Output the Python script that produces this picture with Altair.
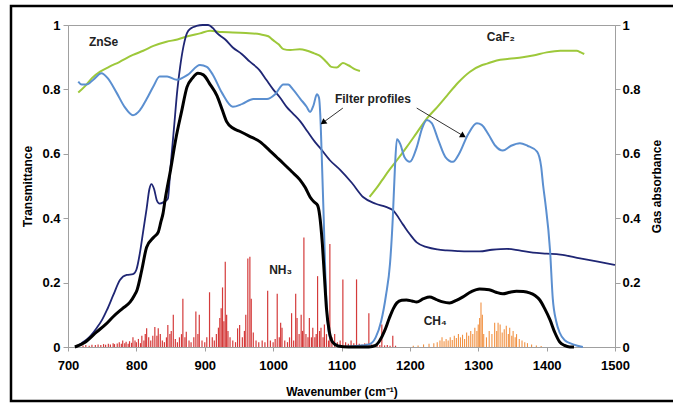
import altair as alt
import pandas as pd

# ---------------- data ----------------
znse_wn = [715, 725, 735, 747, 760, 775, 795, 810, 825, 844, 860, 875, 893, 908, 925, 941, 960, 981, 993, 1000,
           1008, 1015, 1025, 1039, 1050, 1060, 1068, 1078, 1085, 1093, 1102, 1110, 1120, 1127]
znse_t = [0.79, 0.81, 0.835, 0.855, 0.87, 0.885, 0.907, 0.92, 0.935, 0.948, 0.955, 0.965, 0.974, 0.982, 0.978,
          0.977, 0.975, 0.971, 0.965, 0.953, 0.94, 0.925, 0.922, 0.925, 0.92, 0.912, 0.905, 0.885, 0.87, 0.868,
          0.882, 0.875, 0.862, 0.857]

caf2_wn = [1141, 1150, 1160, 1170, 1181, 1195, 1210, 1225, 1240, 1254, 1270, 1288, 1305, 1313, 1327, 1345, 1365,
           1380, 1400, 1420, 1444, 1450, 1455]
caf2_t = [0.466, 0.49, 0.52, 0.55, 0.58, 0.62, 0.665, 0.71, 0.745, 0.78, 0.82, 0.855, 0.875, 0.88, 0.89, 0.895,
          0.90, 0.905, 0.915, 0.92, 0.92, 0.915, 0.91]

filt_wn = [715, 720, 727, 737, 749, 758, 771, 783, 795, 805, 815, 825, 834, 845, 859, 875, 893, 903, 912, 925,
           941, 955, 971, 991, 1003, 1015, 1022, 1029, 1040, 1049, 1054, 1059, 1064, 1067, 1069, 1071, 1074, 1076,
           1079, 1083, 1090, 1100, 1120, 1140, 1150, 1158, 1165, 1171, 1175, 1178, 1181, 1186, 1192, 1200, 1210,
           1218, 1225, 1232, 1242, 1252, 1263, 1272, 1285, 1298, 1305, 1315, 1325, 1336, 1348, 1361, 1372, 1386,
           1392, 1395, 1398, 1405, 1409, 1414, 1419, 1427, 1434, 1445, 1453]
filt_t = [0.824, 0.815, 0.815, 0.83, 0.85, 0.835, 0.79, 0.745, 0.72, 0.735, 0.77, 0.81, 0.84, 0.84, 0.83, 0.845,
          0.876, 0.87, 0.845, 0.79, 0.746, 0.755, 0.77, 0.77, 0.785, 0.815, 0.815, 0.80, 0.77, 0.746, 0.73, 0.75,
          0.785, 0.775, 0.72, 0.6, 0.4, 0.25, 0.1, 0.03, 0.01, 0.0, 0.003, 0.008, 0.03, 0.08, 0.16, 0.26, 0.40,
          0.55, 0.645, 0.63, 0.59, 0.575, 0.62, 0.68, 0.705, 0.695, 0.64, 0.59, 0.575, 0.60, 0.66, 0.695, 0.69,
          0.66, 0.625, 0.61, 0.625, 0.633, 0.625, 0.607, 0.56, 0.50, 0.45, 0.30, 0.15, 0.08, 0.045, 0.02, 0.012,
          0.004, 0.0]

navy_wn = [712, 720, 730, 742, 750, 757, 766, 776, 786, 795, 800, 805, 810, 815, 819, 822, 826, 830, 834, 840,
           846, 850, 855, 860, 864, 869, 874, 880, 888, 897, 905, 912, 918, 930, 941, 954, 966, 980, 990, 1000,
           1010, 1020, 1029, 1040, 1050, 1060, 1068, 1083, 1098, 1115, 1132, 1150, 1165, 1175, 1190, 1200, 1210,
           1225, 1240, 1254, 1270, 1285, 1302, 1320, 1342, 1360, 1380, 1400, 1420, 1449, 1475, 1500]
navy_t = [0.0, 0.012, 0.028, 0.059, 0.085, 0.115, 0.16, 0.208, 0.224, 0.226, 0.24, 0.29, 0.36, 0.43, 0.49, 0.506,
          0.49, 0.455, 0.445, 0.45, 0.46, 0.56, 0.68, 0.80, 0.87, 0.935, 0.975, 0.99, 0.997, 1.0, 1.0, 0.99,
          0.975, 0.955, 0.93, 0.91, 0.886, 0.86, 0.83, 0.80, 0.775, 0.745, 0.725, 0.70, 0.67, 0.64, 0.62, 0.58,
          0.55, 0.51, 0.465, 0.445, 0.435, 0.425, 0.38, 0.35, 0.325, 0.31, 0.303, 0.30, 0.298, 0.297, 0.297,
          0.302, 0.305, 0.30, 0.293, 0.29, 0.287, 0.275, 0.265, 0.255]

prod_wn = [710, 725, 742, 755, 766, 780, 791, 797, 801, 808, 815, 825, 832, 836, 839, 842, 850, 858, 866, 874,
           882, 890, 898, 908, 918, 925, 932, 941, 951, 965, 981, 995, 1005, 1015, 1027, 1039, 1047, 1054, 1060,
           1065, 1068, 1072, 1075, 1078, 1082, 1087, 1095, 1110, 1140, 1150, 1156, 1163, 1170, 1176, 1181, 1188,
           1195, 1203, 1210, 1220, 1229, 1238, 1248, 1258, 1268, 1277, 1290, 1302, 1316, 1326, 1336, 1346, 1356,
           1366, 1375, 1383, 1390, 1397, 1405, 1412, 1419, 1426, 1434, 1440]
prod_t = [0.0, 0.015, 0.047, 0.07, 0.094, 0.12, 0.14, 0.16, 0.177, 0.24, 0.31, 0.34, 0.357, 0.39, 0.415, 0.457,
          0.55, 0.65, 0.73, 0.807, 0.835, 0.85, 0.845, 0.815, 0.78, 0.74, 0.70, 0.68, 0.67, 0.655, 0.637, 0.61,
          0.59, 0.57, 0.545, 0.52, 0.495, 0.466, 0.45, 0.44, 0.41, 0.32, 0.22, 0.12, 0.05, 0.015, 0.003, 0.0, 0.0,
          0.005, 0.02, 0.05, 0.09, 0.12, 0.137, 0.145, 0.146, 0.143, 0.14, 0.15, 0.155, 0.148, 0.14, 0.137, 0.145,
          0.155, 0.172, 0.18, 0.178, 0.17, 0.165, 0.17, 0.173, 0.172, 0.168, 0.16, 0.146, 0.12, 0.084, 0.045,
          0.016, 0.005, 0.0, 0.0]

nh3_wn = [722, 726, 731, 735, 740, 744, 748, 752, 755, 759, 762, 766, 768, 772, 775, 778, 780, 783, 785, 788,
          790, 793, 795, 798, 800, 803, 806, 808, 811, 813, 815, 818, 821, 824, 827, 830, 832, 835, 838, 841,
          844, 846, 849, 851, 854, 857, 860, 863, 866, 868, 871, 873, 877, 880, 884, 887, 890, 892, 896, 900,
          903, 907, 911, 914, 917, 920, 922, 924, 926, 928, 930, 932, 934, 937, 941, 945, 948, 951, 955, 958,
          960, 963, 966, 968, 971, 975, 979, 984, 988, 992, 996, 1000, 1003, 1006, 1009, 1011, 1013, 1017, 1021,
          1024, 1027, 1030, 1033, 1035, 1038, 1041, 1043, 1045, 1048, 1051, 1053, 1056, 1058, 1061, 1063, 1065,
          1068, 1070, 1073, 1075, 1078, 1081, 1083, 1086, 1090, 1094, 1098, 1102, 1106, 1110, 1114, 1118, 1122,
          1126, 1130, 1134, 1137, 1140, 1144, 1148, 1152, 1156, 1159, 1163, 1167, 1171, 1175, 1179]
nh3_a = [0.005, 0.006, 0.004, 0.007, 0.006, 0.008, 0.006, 0.009, 0.007, 0.01, 0.008, 0.012, 0.009, 0.011, 0.015,
         0.01, 0.02, 0.012, 0.016, 0.01, 0.018, 0.013, 0.03, 0.02, 0.015, 0.025, 0.012, 0.035, 0.02, 0.04,
         0.058, 0.03, 0.02, 0.035, 0.062, 0.035, 0.058, 0.04, 0.02, 0.015, 0.03, 0.068, 0.04, 0.05, 0.10, 0.025,
         0.015, 0.03, 0.04, 0.15, 0.03, 0.047, 0.02, 0.015, 0.03, 0.11, 0.04, 0.10, 0.02, 0.015, 0.03, 0.17,
         0.03, 0.02, 0.04, 0.06, 0.09, 0.12, 0.185, 0.08, 0.265, 0.10, 0.05, 0.03, 0.02, 0.015, 0.058, 0.068,
         0.03, 0.05, 0.10, 0.275, 0.28, 0.15, 0.045, 0.02, 0.015, 0.02, 0.015, 0.175, 0.02, 0.015, 0.025, 0.165,
         0.03, 0.075, 0.06, 0.02, 0.015, 0.03, 0.105, 0.02, 0.165, 0.09, 0.04, 0.10, 0.05, 0.34, 0.04, 0.03, 0.09,
         0.03, 0.06, 0.03, 0.04, 0.22, 0.05, 0.06, 0.03, 0.07, 0.04, 0.02, 0.32, 0.03, 0.04, 0.015, 0.02, 0.21,
         0.015, 0.01, 0.02, 0.012, 0.21, 0.01, 0.008, 0.012, 0.01, 0.105, 0.008, 0.006, 0.01, 0.006, 0.07, 0.005,
         0.006, 0.004, 0.035, 0.004]

ch4_wn = [1205, 1212, 1220, 1228, 1235, 1240, 1244, 1247, 1250, 1253, 1256, 1259, 1262, 1265, 1268, 1271, 1274,
          1277, 1280, 1283, 1286, 1289, 1292, 1295, 1298, 1300, 1302, 1304, 1306, 1308, 1312, 1316, 1320, 1324,
          1327, 1329, 1332, 1335, 1338, 1341, 1344, 1346, 1349, 1351, 1354, 1356, 1360, 1364, 1368, 1372, 1378,
          1385, 1392]
ch4_a = [0.004, 0.005, 0.008, 0.01, 0.012, 0.015, 0.02, 0.03, 0.018, 0.025, 0.02, 0.03, 0.022, 0.035, 0.028, 0.04,
         0.03, 0.038, 0.025, 0.045, 0.035, 0.05, 0.04, 0.06, 0.05, 0.07, 0.09, 0.138, 0.10, 0.04, 0.03, 0.05,
         0.04, 0.075, 0.05, 0.075, 0.07, 0.045, 0.055, 0.066, 0.04, 0.06, 0.035, 0.05, 0.03, 0.04, 0.025, 0.02,
         0.015, 0.012, 0.008, 0.005, 0.003]

x_ticks = [700, 800, 900, 1000, 1100, 1200, 1300, 1400, 1500]
y_ticks = [0, 0.2, 0.4, 0.6, 0.8, 1]

# ---------------- chart ----------------
FONT = "Liberation Sans"
GRAY = "#a0a0a0"

xscale = alt.Scale(domain=[700, 1500], nice=False, zero=False)
yscale = alt.Scale(domain=[0, 1], nice=False)

xaxis = alt.Axis(values=x_ticks, format="d", title="Wavenumber (cm⁻¹)", grid=False, labelFlush=False,
                 tickSize=4, labelPadding=8, titlePadding=14, domainColor=GRAY, tickColor=GRAY,
                 labelFontSize=13, labelFontWeight="bold", labelColor="black", labelFont=FONT,
                 titleFontSize=12, titleFontWeight="bold", titleFont=FONT, titleColor="black")
yaxis_left = alt.Axis(values=y_ticks, format="~g", title="Transmittance", grid=False, orient="left",
                      labelFlush=False, tickSize=5, labelPadding=3, domainColor=GRAY, tickColor=GRAY,
                      labelFontSize=13, labelFontWeight="bold", labelColor="black", labelFont=FONT,
                      titleFontSize=12, titleFontWeight="bold", titleFont=FONT, titleColor="black",
                      titleX=-34, titleY=161, titleAngle=270)
yaxis_right = alt.Axis(values=y_ticks, format="~g", title="Gas absorbance", grid=False, orient="right",
                       labelFlush=False, tickSize=5, labelPadding=2, domainColor=GRAY, tickColor=GRAY,
                       labelFontSize=13, labelFontWeight="bold", labelColor="black", labelFont=FONT,
                       titleFontSize=12, titleFontWeight="bold", titleFont=FONT, titleColor="black",
                       titleX=48, titleY=161, titleAngle=270)


def df(wn, v):
    return pd.DataFrame({"wn": wn, "v": v})


def line(wn, v, color, width):
    return alt.Chart(df(wn, v)).mark_line(color=color, strokeWidth=width, interpolate="monotone").encode(
        x=alt.X("wn:Q", scale=xscale, axis=xaxis),
        y=alt.Y("v:Q", scale=yscale, axis=yaxis_left),
    )


green = "#9dc83a"
lightblue = "#5b8fd0"
navy = "#1f2674"

l_znse = line(znse_wn, znse_t, green, 2)
l_caf2 = line(caf2_wn, caf2_t, green, 2)
l_filt = line(filt_wn, filt_t, lightblue, 2)
l_navy = line(navy_wn, navy_t, navy, 1.8)
l_prod = line(prod_wn, prod_t, "black", 3)

one = pd.DataFrame({"a": [0]})


def pos(wn, v):
    return dict(x=alt.datum(wn, scale=xscale, axis=xaxis), y=alt.datum(v, scale=yscale, axis=yaxis_left))


def label(text, wn, v):
    return alt.Chart(one).mark_text(text=text, font=FONT, fontSize=12, fontWeight="bold",
                                    color="#222").encode(**pos(wn, v))


labels = [
    label("ZnSe", 752, 0.947),
    label("CaF₂", 1333, 0.962),
    label("NH₃", 1011, 0.24),
    label("CH₄", 1237, 0.08),
    label("Filter profiles", 1146, 0.77),
]


def arrow(x1, y1, x2, y2, ang):
    seg = alt.Chart(one).mark_rule(color="#333", strokeWidth=1).encode(
        **pos(x1, y1), x2=alt.datum(x2), y2=alt.datum(y2))
    head = alt.Chart(one).mark_point(shape="triangle-up", filled=True, color="black", size=45,
                                     angle=ang, opacity=1).encode(**pos(x2, y2))
    return [seg, head]


arrows = arrow(1102, 0.742, 1073, 0.697, 233) + arrow(1210, 0.742, 1278, 0.656, 121)

frame = alt.Chart(one).mark_rect(filled=False, stroke="black", strokeWidth=2.5).encode(
    x=alt.value(-57), x2=alt.value(625), y=alt.value(-19), y2=alt.value(376))

spec_nh3 = alt.Chart(df(nh3_wn, nh3_a)).mark_rule(color="#cf2626", strokeWidth=1.2, opacity=0.9).encode(
    x=alt.X("wn:Q", scale=xscale, axis=xaxis),
    y=alt.Y("v:Q", scale=yscale, axis=yaxis_right),
    y2=alt.datum(0),
)
spec_ch4 = alt.Chart(df(ch4_wn, ch4_a)).mark_rule(color="#f0852d", strokeWidth=1.1, opacity=0.9).encode(
    x=alt.X("wn:Q", scale=xscale, axis=xaxis),
    y=alt.Y("v:Q", scale=yscale, axis=yaxis_right),
    y2=alt.datum(0),
)

gas = alt.layer(spec_nh3, spec_ch4)
trans = alt.layer(l_znse, l_caf2, l_navy, l_filt, l_prod, *labels, *arrows, frame)

chart = alt.layer(gas, trans).resolve_scale(y="independent").properties(
    width=547, height=322,
    autosize=alt.AutoSizeParams(type="none"),
    padding={"left": 68, "top": 25, "right": 58, "bottom": 56},
    background="white",
).configure_view(stroke=GRAY, strokeWidth=1)

chart.save("out.html", embed_options={"renderer": "svg", "actions": False})
